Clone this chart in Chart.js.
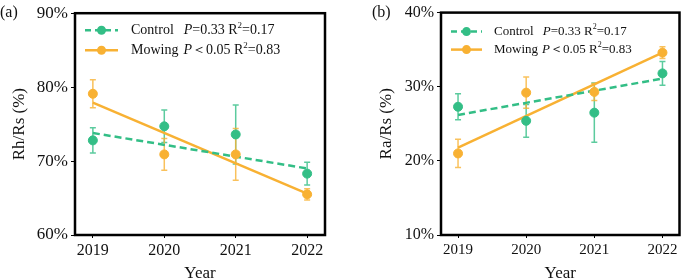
<!DOCTYPE html>
<html>
<head>
<meta charset="utf-8">
<script src="https://cdn.jsdelivr.net/npm/chart.js@4/dist/chart.umd.min.js"></script>
<style>
  body { margin: 0; background: #fff; }
  .panel { position: absolute; top: 0; }
</style>
</head>
<body>
<div class="panel" style="left:0"><canvas id="rhChart" width="340" height="280"></canvas></div>
<div class="panel" style="left:340px"><canvas id="raChart" width="345" height="280"></canvas></div>
<script>
const years = [2019, 2020, 2021, 2022];
const fitYears = [2019, 2022];

// (a) Rh/Rs
const rhControl = [72.8, 74.7, 73.6, 68.3];
const rhControlErr = [1.7, 2.2, 4.0, 1.55];
const rhMowing = [79.1, 70.9, 70.9, 65.5];
const rhMowingErr = [1.9, 2.15, 3.5, 0.75];
const rhControlFit = [73.8, 69.0];
const rhMowingFit = [77.9, 65.6];
const rhTicks = [60, 70, 80, 90];

// (b) Ra/Rs
const raControl = [27.3, 25.4, 26.5, 31.8];
const raControlErr = [1.75, 2.2, 4.0, 1.6];
const raMowing = [21.0, 29.2, 29.3, 34.6];
const raMowingErr = [1.9, 2.1, 1.15, 0.8];
const raControlFit = [26.2, 31.1];
const raMowingFit = [21.8, 34.6];
const raTicks = [10, 20, 30, 40];

const seriesNames = ['Control', 'Mowing'];
const pTexts = ['=0.33', '\uFF1C0.05'];
const r2Texts = ['0.17', '0.83'];

const GREEN = '#33be86', ORANGE = '#f8b133';
const GREEN_BAR = 'rgba(51,190,134,0.8)', ORANGE_BAR = 'rgba(248,177,51,0.8)';
const SERIF = '"Liberation Serif", "Times New Roman", serif';

const pts = (xs, ys) => xs.map((x, i) => ({ x, y: ys[i] }));

// error bars + frame + legend + panel letter
const extrasPlugin = {
    id: 'extras',
    beforeDatasetsDraw(chart) {
        const { ctx, scales: { x, y } } = chart;
        chart.data.datasets.forEach(ds => {
            if (!ds.errs) return;
            ctx.save();
            ctx.strokeStyle = ds.barColor;
            ctx.lineWidth = 1.5;
            ds.data.forEach((p, i) => {
                const px = x.getPixelForValue(p.x);
                const top = y.getPixelForValue(p.y + ds.errs[i]);
                const bot = y.getPixelForValue(p.y - ds.errs[i]);
                ctx.beginPath();
                ctx.moveTo(px, top); ctx.lineTo(px, bot);
                ctx.moveTo(px - 3, top); ctx.lineTo(px + 3, top);
                ctx.moveTo(px - 3, bot); ctx.lineTo(px + 3, bot);
                ctx.stroke();
            });
            ctx.restore();
        });
    },
    afterDraw(chart, args, opts) {
        const { ctx, chartArea: a } = chart;
        ctx.save();
        ctx.strokeStyle = '#000';
        ctx.lineWidth = 2.5;
        ctx.strokeRect(a.left, a.top, a.right - a.left, a.bottom - a.top);

        ctx.fillStyle = '#111';
        ctx.textBaseline = 'middle';
        ctx.font = '16px ' + SERIF;
        ctx.fillText(opts.letter, opts.letterX, 13);

        [GREEN, ORANGE].forEach((col, i) => {
            const ry = a.top + opts.rowY[i];
            const x0 = a.left + 10, x1 = a.left + opts.lineLen + 10;
            ctx.strokeStyle = col;
            ctx.lineWidth = 2.5;
            ctx.setLineDash(i === 0 ? [6, 4] : []);
            ctx.beginPath(); ctx.moveTo(x0, ry); ctx.lineTo(x1, ry); ctx.stroke();
            ctx.setLineDash([]);
            ctx.fillStyle = col;
            ctx.beginPath(); ctx.arc((x0 + x1) / 2, ry, 4.5, 0, Math.PI * 2); ctx.fill();

            let tx = a.left + opts.textX;
            ctx.fillStyle = '#111';
            ctx.font = opts.fs + 'px ' + SERIF;
            ctx.fillText(seriesNames[i], tx, ry);
            tx += ctx.measureText(seriesNames[i]).width + opts.gap[i];
            ctx.font = 'italic ' + opts.fs + 'px ' + SERIF;
            ctx.fillText('P', tx, ry);
            tx += ctx.measureText('P').width;
            ctx.font = opts.fs + 'px ' + SERIF;
            const mid = pTexts[i] + ' R';
            ctx.fillText(mid, tx, ry);
            tx += ctx.measureText(mid).width;
            ctx.font = Math.round(opts.fs * 0.65) + 'px ' + SERIF;
            ctx.fillText('2', tx, ry - 5);
            tx += ctx.measureText('2').width;
            ctx.font = opts.fs + 'px ' + SERIF;
            ctx.fillText('=' + r2Texts[i], tx, ry);
        });
        ctx.restore();
    }
};

function makeChart(id, cfg) {
    const ticksAt = cfg.yTicks;
    return new Chart(document.getElementById(id), {
        type: 'scatter',
        data: {
            datasets: [
                { data: pts(years, cfg.control), errs: cfg.controlErr, barColor: GREEN_BAR, backgroundColor: GREEN, borderColor: GREEN, pointRadius: 4.5, pointHoverRadius: 4.5, showLine: false, order: 1 },
                { data: pts(years, cfg.mowing), errs: cfg.mowingErr, barColor: ORANGE_BAR, backgroundColor: ORANGE, borderColor: ORANGE, pointRadius: 4.5, pointHoverRadius: 4.5, showLine: false, order: 2 },
                { data: pts(fitYears, cfg.controlFit), showLine: true, borderColor: GREEN, borderWidth: 2.5, borderDash: [7, 4], pointRadius: 0, order: 3 },
                { data: pts(fitYears, cfg.mowingFit), showLine: true, borderColor: ORANGE, borderWidth: 2.5, pointRadius: 0, order: 4 }
            ]
        },
        options: {
            responsive: false,
            animation: false,
            events: [],
            layout: { padding: { left: cfg.padLeft, right: cfg.padRight, top: 10, bottom: 0 } },
            plugins: {
                legend: { display: false },
                tooltip: { enabled: false },
                extras: cfg.legend
            },
            scales: {
                x: {
                    type: 'linear', min: 2018.75, max: 2022.25,
                    afterBuildTicks: s => { s.ticks = years.map(v => ({ value: v })); },
                    afterFit: s => { s.height = 45; },
                    ticks: { color: '#111', font: { family: SERIF, size: cfg.xFont }, padding: 3, callback: v => String(v) },
                    grid: { drawOnChartArea: false, tickLength: 3, color: '#000' },
                    border: { display: false },
                    title: { display: true, text: 'Year', color: '#111', font: { family: SERIF, size: 17, lineHeight: 0.8 }, padding: { top: 0, bottom: 0 } }
                },
                y: {
                    min: ticksAt[0], max: ticksAt[ticksAt.length - 1],
                    afterBuildTicks: s => { s.ticks = ticksAt.map(v => ({ value: v })); },
                    afterFit: s => { s.width = cfg.yWidth; },
                    ticks: { color: '#111', font: { family: SERIF, size: cfg.yFont }, padding: 3, callback: v => v + '%' },
                    grid: { drawOnChartArea: false, tickLength: 4, color: '#000' },
                    border: { display: false },
                    title: { display: true, text: cfg.yTitle, color: '#111', font: { family: SERIF, size: 17 }, padding: { top: 9, bottom: 0 } }
                }
            }
        },
        plugins: [extrasPlugin]
    });
}

makeChart('rhChart', {
    control: rhControl, controlErr: rhControlErr, mowing: rhMowing, mowingErr: rhMowingErr,
    controlFit: rhControlFit, mowingFit: rhMowingFit, yTicks: rhTicks, yTitle: 'Rh/Rs (%)',
    padLeft: 0, padRight: 15, yWidth: 75, xFont: 16, yFont: 17,
    legend: { letter: '(a)', letterX: 0, rowY: [17, 37], lineLen: 33, textX: 56, gap: [10, 5], fs: 14 }
});

makeChart('raChart', {
    control: raControl, controlErr: raControlErr, mowing: raMowing, mowingErr: raMowingErr,
    controlFit: raControlFit, mowingFit: raMowingFit, yTicks: raTicks, yTitle: 'Ra/Rs (%)',
    padLeft: 27, padRight: 2, yWidth: 74, xFont: 15, yFont: 16,
    legend: { letter: '(b)', letterX: 32, rowY: [19, 37], lineLen: 31, textX: 53, gap: [9, 4], fs: 13 }
});
</script>
</body>
</html>
